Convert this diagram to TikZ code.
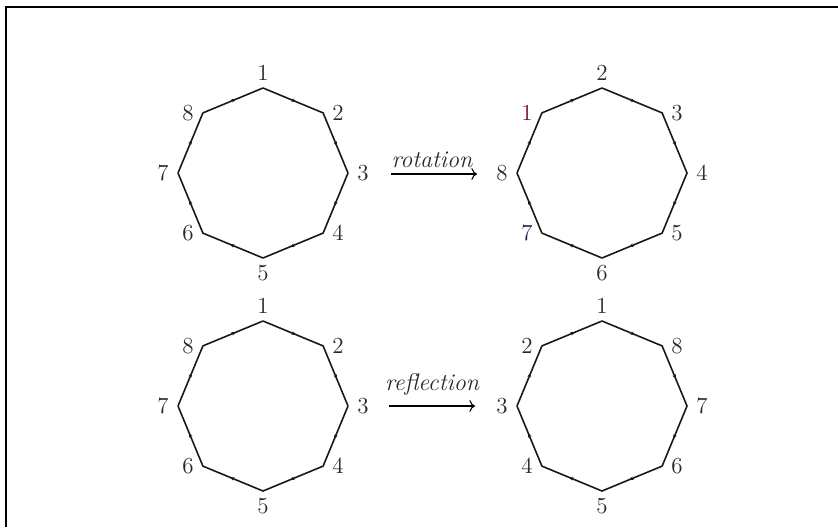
\documentclass[tikz,border=0pt]{standalone}
\usetikzlibrary{calc,decorations.markings,arrows.meta}
\definecolor{labgray}{RGB}{40,40,40}
\definecolor{labred}{RGB}{125,10,50}
\definecolor{labblue}{RGB}{35,35,80}
\definecolor{linegray}{RGB}{25,25,25}
\newcommand\drawoct[4]{%
  \coordinate (#3c) at (#1,#2);
  \foreach \k in {1,...,8}{
    \pgfmathsetmacro\ang{90-45*(\k-1)}
    \coordinate (#3\k) at ($(#3c)+(\ang:85)$);
  }
  \draw[octline] (#31)--(#32)--(#33)--(#34)--(#35)--(#36)--(#37)--(#38)--cycle;
  \foreach \a/\b in {1/2,2/3,3/4,4/5,5/6,6/7,7/8,8/1}{
    \path[midmark] (#3\a) -- (#3\b);
  }
  \foreach \lab [count=\k] in {#4}{
    \pgfmathsetmacro\ang{90-45*(\k-1)}
    \pgfmathsetmacro\dx{isodd(\k) ? 15*cos(\ang) : (cos(\ang)>0 ? 15 : -15)}
    \pgfmathsetmacro\dy{isodd(\k) ? 15*sin(\ang) : 0}
    \node[lab] (#3L\k) at ($(#3\k)+(\dx,\dy)$) {\lab};
  }
}
\begin{document}
\begin{tikzpicture}[x=0.5pt,y=0.5pt,
  octline/.style={draw=linegray, line width=0.8pt, line join=round},
  midmark/.style={postaction={decorate}, decoration={markings,
      mark=at position 0.55 with {\arrow[linegray]{Stealth[length=2.2pt,width=1.8pt]}}}},
  lab/.style={font=\fontsize{11.5}{13}\selectfont, text=labgray, inner sep=0pt},
  maparrow/.style={->, line width=0.55pt, draw=black},
  maplab/.style={font=\fontsize{12}{14}\selectfont\itshape, text=labgray, inner sep=0pt}
]
\useasboundingbox (0,0) rectangle (838,527);
% frame
\coordinate (fb) at (6,0);
\coordinate (fc) at (6,520);
\coordinate (fr) at (838,520);
\draw[line width=1.1pt] (fb) -- (fc) -- (fr);
% octagons
\drawoct{263}{354}{A}{1,2,3,4,5,6,7,8}
\drawoct{602}{354}{B}{2,3,4,5,6,{\textcolor{labblue}{7}},8,{\textcolor{labred}{1}}}
\drawoct{263}{121}{C}{1,2,3,4,5,6,7,8}
\drawoct{602}{121}{D}{1,8,7,6,5,4,3,2}
% maps
\coordinate (r1) at (391,353);
\coordinate (r2) at (477,353);
\draw[maparrow] (r1) -- (r2);
\node[maplab] (rl) at (432,367) {rotation};
\coordinate (s1) at (389,121);
\coordinate (s2) at (475,121);
\draw[maparrow] (s1) -- (s2);
\node[maplab] (sl) at (432,143) {reflection};
\end{tikzpicture}
\end{document}
